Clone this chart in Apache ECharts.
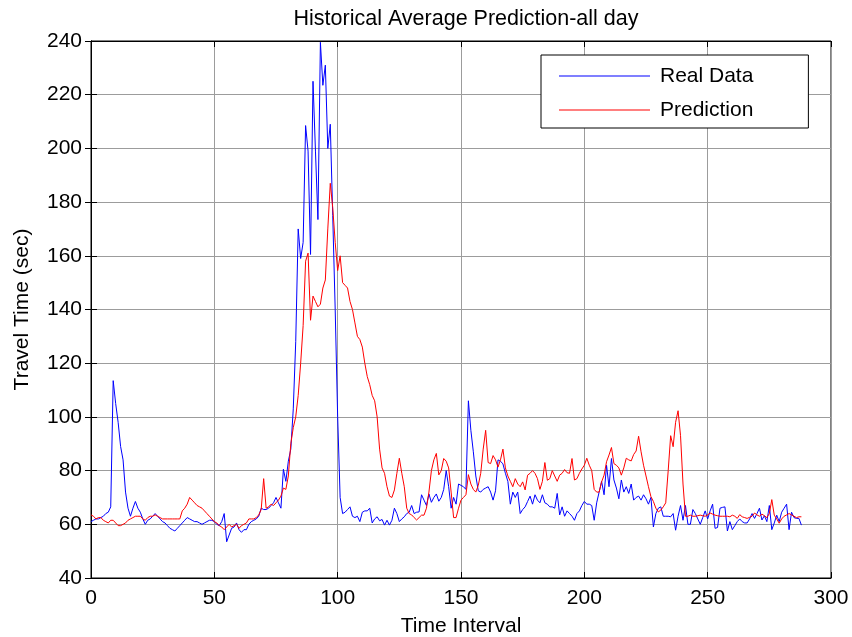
<!DOCTYPE html>
<html>
<head>
<meta charset="utf-8">
<script src="https://cdn.jsdelivr.net/npm/echarts@6/dist/echarts.min.js"></script>
<style>
html,body{margin:0;padding:0;background:#fff;}
#c{width:852px;height:637px;}
</style>
</head>
<body>
<div id="c"></div>
<script>
// Time interval index starts at 0
var realData = [
61,61.5,62,62,62.5,63,64,64.5,66.5,113.5,
105,98,89,84,72,66,63,66,68.5,66,
64.5,62,60,61.5,62,63,64,63,62,61,
60.5,59.5,58.5,58,57.5,58.5,59.5,60.5,61.5,62.5,
62,61.5,61,61,60.5,60,60.5,61,61.5,61.5,
61,60,59.5,61,64,53.5,56,58.5,59,60.5,
58,57,58,58,60,61,61.5,62,63,66,
65.5,65.5,66,67,68,70,68,66,80.5,76,
83.5,88,103,128,170,159,165,208.5,199,160.5,
225,199,173.5,239.5,223.5,231,200,209,175,140,
100,70,64,64.5,65.5,66.5,63,62.5,63,61,
64.5,65,65,66,60.5,62,62.8,61.3,61.8,59.7,
61.5,59.7,61.5,66,64,61,62,62.8,64,64.5,
67,64,64.5,64.6,71,69,67,71.3,68.2,70,
71.3,68.6,70,73,80,74,66,70,67.5,75,
74.5,74,73,106,95,87,78,72.5,72,73,
73.5,74,72,69,72.5,84,83.5,82.5,79,76,
67.5,72,70,72,64,65.5,66.5,68.5,70.5,67.5,
71,69,68,71,68,67.5,66.5,66.5,66,71.5,
63.5,66.5,63,65,64,63,61.5,64,65,67,
68.5,67.5,67.5,67,61.5,68,72,76,71,82,
74,84.5,76.5,73.5,69.5,76.5,72,74,71.5,75,
69,70,70.5,69,71,69.5,67.5,70,59,64,
66,66.5,63,63,63,62.8,64,57.8,63,67,
61.5,67,60,60,65.5,64,62,60,62.5,65,
62,65,67.5,58.5,58.8,66,66.3,66.5,57.5,61,
58,59.5,61,62,61,60.5,60.5,62,64,62.2,
64,66,61.6,63.2,61,67,58,60.5,63.4,61,
64.5,66,67.5,58,64.5,62.5,62.2,62.2,59.7
];
var predData = [
63.5,63,62,62.5,62.5,61.5,61,60.5,61.5,61.5,
60.5,59.5,59.5,60,60.5,61.5,62,62.5,63,63,
63,62,61.5,62.5,63,63,63.5,63,62.5,62,
62,62,62,62,62,62,62,65,66,67.5,
70,69,68,67,66.5,66,65,64,63,62,
61,60.5,59.5,59,58,59,60,59,59.5,60,
58.5,59.5,60,60.5,62,62,62,62.5,63.5,65.5,
77,66,66.5,67.5,67,68,69,70.5,73.5,73,
78,90,96,100,108,120,134,158,161,136,
145,143,141,142,148,151,170,187,178,165,
154.5,160,150,149,148,143,140,135,130,128.8,
126,120,115,112,108,106,100,88,81,79,
74,70.5,70,72.8,79,84.6,79,74,66,64,
63.5,62.5,61.6,62.5,63.4,63.4,66,72,80,84,
86.4,78.4,80,84.5,83.5,81,72,62.5,62.5,66,
69,70,71,78.5,75,73,72,74.5,79,88,
95,83,82.6,85.6,84,81.3,84,88,81,78,
76,74,77,75,74,75.8,72.8,78.3,79,80,
79,77,73,76,83,76.4,77,80,78,76,
78.3,79,80.4,79.2,79,84.5,76.5,77,79,80.6,
82,84.6,82,80,73,72,72,75.8,78.3,83.3,
85.8,88.6,82.6,82,81,78.3,81,84.6,84,83.6,
86,87.3,92.8,87,82,78,74,70.3,68.5,66,
64.6,65.3,66.5,68,80,93,88.9,98,102.3,93,
75,63,63,63.4,63,63,63.2,63.4,63.2,63,
63.5,64.2,63.8,63.4,63.2,63,63,63,63,62.8,
63.4,63,62.2,63.6,62.8,62.5,62.2,62.6,63,64.2,
63.5,63,63.8,63.2,62.5,64,69.2,63.4,62,60.4,
62,63,63.5,64,63.5,63,62.5,62.8,62.8
];
var seriesNames = ['Real Data', 'Prediction'];
var titleText = 'Historical Average Prediction-all day';
var xName = 'Time Interval';
var yName = 'Travel Time (sec)';

function pairs(arr){ return arr.map(function(v,i){ return [i, v]; }); }

var font = 'Liberation Sans, Arial, sans-serif';
var chart = echarts.init(document.getElementById('c'), null, {renderer:'canvas'});
var gridLine = {show:true, lineStyle:{color:'#9c9c9c', width:1, type:'solid'}};
chart.setOption({
  animation:false,
  backgroundColor:'#fff',
  title:{text:titleText, left:461, textAlign:'center', top:3,
         textStyle:{fontFamily:font, fontSize:21.5, fontWeight:'normal', color:'#000'}},
  legend:{
    orient:'vertical', left:541, top:55,
    data:seriesNames, icon:'rect',
    borderColor:'#000', borderWidth:1, backgroundColor:'#fff',
    padding:[9,55,6,18], itemGap:10, itemWidth:91, itemHeight:1,
    textStyle:{fontFamily:font, fontSize:21, lineHeight:24, color:'#000', padding:[0,0,0,5]}
  },
  grid:{left:91, top:41, width:740, height:537, containLabel:false, outerBoundsMode:'none',
        show:true, borderColor:'#000', borderWidth:1, backgroundColor:'transparent'},
  xAxis:[{
    type:'value', min:0, max:300, interval:50,
    name:xName, nameLocation:'middle', nameGap:38,
    nameTextStyle:{fontFamily:font, fontSize:21, color:'#000'},
    axisLine:{show:true, lineStyle:{color:'#000'}},
    axisTick:{show:true, inside:true, length:6, lineStyle:{color:'#000'}},
    axisLabel:{fontFamily:font, fontSize:21, color:'#000', margin:10},
    splitLine:gridLine
  },{
    type:'value', min:0, max:300, interval:50, position:'top',
    axisLine:{show:true, lineStyle:{color:'#000'}},
    axisTick:{show:true, inside:true, length:6, lineStyle:{color:'#000'}},
    axisLabel:{show:false}, splitLine:{show:false}
  }],
  yAxis:[{
    type:'value', min:40, max:240, interval:20,
    name:yName, nameLocation:'middle', nameGap:58, nameRotate:90,
    nameTextStyle:{fontFamily:font, fontSize:21, color:'#000'},
    axisLine:{show:true, lineStyle:{color:'#000'}},
    axisTick:{show:true, inside:true, length:6, lineStyle:{color:'#000'}},
    axisLabel:{fontFamily:font, fontSize:21, color:'#000', margin:9},
    splitLine:gridLine
  },{
    type:'value', min:40, max:240, interval:20, position:'right',
    axisLine:{show:true, lineStyle:{color:'#000'}},
    axisTick:{show:true, inside:true, length:6, lineStyle:{color:'#000'}},
    axisLabel:{show:false}, splitLine:{show:false}
  }],
  series:[
    {name:seriesNames[0], type:'line', data:pairs(realData), symbol:'none', xAxisIndex:0, yAxisIndex:0,
     lineStyle:{color:'#0000ff', width:1}, itemStyle:{color:'#0000ff'}},
    {name:seriesNames[1], type:'line', data:pairs(predData), symbol:'none', xAxisIndex:0, yAxisIndex:0,
     lineStyle:{color:'#ff0000', width:1}, itemStyle:{color:'#ff0000'}}
  ]
});
</script>
</body>
</html>
